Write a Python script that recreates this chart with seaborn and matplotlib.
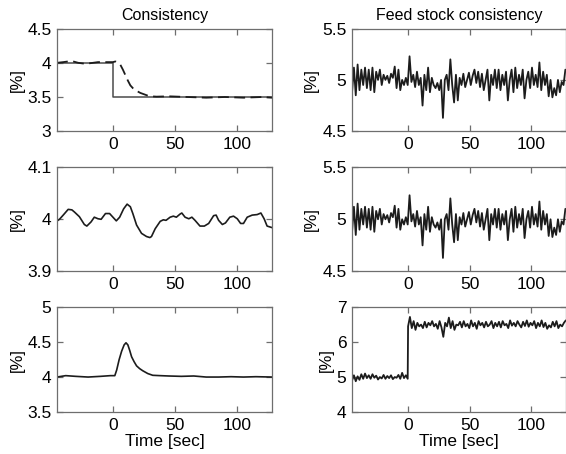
import numpy as np
import pandas as pd
import matplotlib
matplotlib.use("Agg")
import matplotlib.pyplot as plt
import seaborn as sns

# Data
# top left: consistency step response
sp_t = [-45, 0, 0, 128]
sp_v = [4.0, 4.0, 3.5, 3.5]
cons1_t = [-45, -40, -36, -32, -28, -24, -20, -16, -12, -8, -4, 0, 2, 4, 6, 8, 10, 12,
           14, 16, 18, 20, 22, 25, 28, 31, 35, 45, 60, 75, 90, 105, 120, 128]
cons1_v = [4.0, 4.01, 4.02, 4.02, 4.0, 3.99, 3.99, 4.0, 4.01, 4.01, 4.01, 4.01, 4.02, 4.0,
           3.97, 3.9, 3.82, 3.74, 3.67, 3.63, 3.6, 3.58, 3.56, 3.54, 3.52, 3.51, 3.505, 3.51,
           3.5, 3.49, 3.5, 3.49, 3.5, 3.49]

# middle left: consistency under disturbance
cons2_t = [-46, -43, -40, -36, -33, -31, -27, -23, -21, -17.6, -15, -12, -9.5, -6, -2.7, 0,
           2.7, 5.4, 8.6, 11.4, 14, 16, 19, 23, 27, 29.7, 31, 34, 38, 40.5, 42.7, 46, 48.6,
           51, 54, 55.4, 58, 61, 63.5, 66, 70, 73.5, 77, 81, 83, 85, 88, 90.5, 94, 97, 100,
           102.7, 105, 108, 112, 116, 119, 121.6, 124, 128]
cons2_v = [3.995, 4.0, 4.008, 4.019, 4.018, 4.014, 4.005, 3.99, 3.987, 3.995, 4.004, 4.001,
           4.0, 4.011, 4.011, 4.004, 3.997, 4.004, 4.02, 4.029, 4.024, 4.011, 3.989, 3.973,
           3.967, 3.965, 3.967, 3.982, 3.996, 3.999, 3.998, 4.004, 4.006, 4.004, 4.01, 4.012,
           4.004, 4.001, 4.004, 3.998, 3.987, 3.987, 3.992, 4.007, 4.008, 3.998, 3.99, 3.993,
           4.004, 4.006, 4.001, 3.992, 3.992, 4.004, 4.008, 4.009, 4.012, 4.001, 3.987, 3.984]

# bottom left: consistency after feed stock step
cons3_t = [-45, -38, -30, -20, -10, -2, 1.5, 3, 5, 7, 9, 10.5, 12, 13.5, 15, 17, 19, 21.5,
           24, 28, 32, 38, 45, 55, 65, 75, 85, 95, 105, 115, 128]
cons3_v = [4.0, 4.02, 4.01, 4.0, 4.01, 4.02, 4.02, 4.1, 4.25, 4.37, 4.46, 4.49, 4.46, 4.38,
           4.29, 4.22, 4.16, 4.12, 4.09, 4.05, 4.025, 4.02, 4.015, 4.01, 4.015, 4.0, 4.0,
           4.005, 4.0, 4.005, 4.0]

# right: feed stock consistency (same trace in the upper two panels)
feed_t = np.arange(-45, 129, 1.5)
feed_v = [4.88, 5.12, 4.85, 5.15, 4.9, 5.1, 4.95, 5.12, 4.92, 5.1,
          4.9, 5.12, 4.88, 5.08, 5.0, 5.1, 4.95, 5.05, 5.0, 5.04,
          4.97, 5.06, 5.02, 5.13, 4.92, 5.1, 4.9, 5.0, 4.95, 5.02,
          4.95, 5.23, 4.98, 5.05, 4.93, 5.08, 4.95, 5.02, 4.75, 5.05,
          4.9, 5.12, 4.88, 5.02, 4.95, 4.92, 4.97, 4.9, 5.0, 4.63,
          5.0, 5.05, 4.9, 5.2, 4.95, 4.78, 5.05, 4.8, 5.02, 4.95,
          5.06, 4.93, 5.0, 5.07, 4.95, 5.04, 5.1, 4.97, 5.08, 4.93,
          5.06, 4.9, 5.0, 5.1, 4.8, 5.05, 4.95, 5.1, 4.92, 5.1,
          4.9, 5.05, 4.95, 5.08, 4.8, 5.0, 5.1, 4.88, 5.12, 4.92,
          5.05, 4.95, 5.1, 4.82, 5.0, 5.08, 4.92, 5.12, 4.95, 5.05,
          4.93, 5.17, 4.9, 5.08, 4.95, 5.05, 4.84, 5.0, 4.83, 4.92,
          4.85, 5.0, 4.88, 4.98, 4.95, 5.1]

step_t = np.concatenate([np.arange(-45, 1, 1.5), np.arange(0.3, 129, 1.5)])
step_v = [4.9, 5.05, 4.88, 5.02, 4.92, 5.08, 4.95, 5.1, 4.97, 5.05,
          4.95, 5.08, 4.98, 5.04, 4.93, 5.0, 4.96, 5.06, 4.95, 5.03,
          4.97, 5.05, 4.94, 5.0, 4.98, 5.06, 4.95, 5.12, 4.97, 5.05, 4.95,
          6.45, 6.72, 6.4, 6.6, 6.35, 6.55, 6.45, 6.5, 6.4, 6.58,
          6.42, 6.55, 6.48, 6.6, 6.45, 6.52, 6.38, 6.6, 6.42, 6.15,
          6.55, 6.45, 6.7, 6.4, 6.6, 6.35, 6.5, 6.48, 6.58, 6.42,
          6.6, 6.45, 6.52, 6.4, 6.62, 6.45, 6.55, 6.38, 6.6, 6.48,
          6.55, 6.42, 6.58, 6.45, 6.5, 6.6, 6.4, 6.55, 6.45, 6.58,
          6.42, 6.6, 6.48, 6.52, 6.4, 6.62, 6.47, 6.55, 6.45, 6.6,
          6.5, 6.42, 6.58, 6.46, 6.62, 6.44, 6.55, 6.48, 6.6, 6.4,
          6.55, 6.45, 6.62, 6.43, 6.55, 6.38, 6.48, 6.42, 6.58, 6.45,
          6.6, 6.4, 6.5, 6.45, 6.55, 6.62]

yticks_left = [[3, 3.5, 4, 4.5], [3.9, 4, 4.1], [3.5, 4, 4.5, 5]]
ylabels_left = [["3", "3.5", "4", "4.5"], ["3.9", "4", "4.1"], ["3.5", "4", "4.5", "5"]]
yticks_right = [[4.5, 5, 5.5], [4.5, 5, 5.5], [4, 5, 6, 7]]
ylabels_right = [["4.5", "5", "5.5"], ["4.5", "5", "5.5"], ["4", "5", "6", "7"]]
xticks = [0, 50, 100]

LINE = '#1c1c1c'
FRAME = '#6e6e6e'

# Style: MATLAB-like boxed axes with inward ticks
sns.set_style("ticks", {
    'xtick.direction': 'in', 'ytick.direction': 'in',
    'xtick.top': True, 'ytick.right': True,
    'xtick.bottom': True, 'ytick.left': True,
    'axes.edgecolor': FRAME, 'xtick.color': FRAME, 'ytick.color': FRAME,
    'text.color': 'black', 'axes.labelcolor': 'black',
})
plt.rcParams['font.family'] = ['Liberation Sans', 'DejaVu Sans']
plt.rcParams['xtick.major.size'] = 4
plt.rcParams['ytick.major.size'] = 4
plt.rcParams['xtick.major.width'] = 0.9
plt.rcParams['ytick.major.width'] = 0.9
plt.rcParams['xtick.labelcolor'] = 'black'
plt.rcParams['ytick.labelcolor'] = 'black'

fig = plt.figure(figsize=(5.66, 4.54), dpi=100)
rows = [(0.711, 0.226), (0.402, 0.230), (0.0925, 0.231)]
axes = []
for bottom, height in rows:
    axl = fig.add_axes([0.1007, bottom, 0.380, height])
    axr = fig.add_axes([0.622, bottom, 0.378, height])
    axes.append((axl, axr))

# Left column
ax = axes[0][0]
sns.lineplot(x=sp_t, y=sp_v, ax=ax, color='#4a4a4a', linewidth=1.1,
             estimator=None, sort=False)
sns.lineplot(x=cons1_t, y=cons1_v, ax=ax, color=LINE, linewidth=1.3,
             estimator=None, sort=False, dashes=False, linestyle=(0, (6, 3)))
ax.set_title('Consistency', fontsize=11.5, pad=6)

sns.lineplot(x=cons2_t, y=cons2_v, ax=axes[1][0], color=LINE, linewidth=1.2,
             estimator=None, sort=False)
sns.lineplot(x=cons3_t, y=cons3_v, ax=axes[2][0], color=LINE, linewidth=1.2,
             estimator=None, sort=False)

# Right column
sns.lineplot(x=feed_t, y=feed_v, ax=axes[0][1], color=LINE, linewidth=1.3,
             estimator=None, sort=False)
axes[0][1].set_title('Feed stock consistency', fontsize=11.5, pad=6)
sns.lineplot(x=feed_t, y=feed_v, ax=axes[1][1], color=LINE, linewidth=1.3,
             estimator=None, sort=False)
sns.lineplot(x=step_t, y=step_v, ax=axes[2][1], color=LINE, linewidth=1.3,
             estimator=None, sort=False)

for i, (axl, axr) in enumerate(axes):
    for ax, yt, yl in [(axl, yticks_left[i], ylabels_left[i]),
                       (axr, yticks_right[i], ylabels_right[i])]:
        ax.set_xlim(-45, 128)
        ax.set_ylim(yt[0], yt[-1])
        ax.set_yticks(yt)
        ax.set_yticklabels(yl)
        ax.set_xticks(xticks)
        ax.set_xticklabels([str(x) for x in xticks])
        ax.tick_params(labelsize=12.5, pad=4)
        for s in ax.spines.values():
            s.set_visible(True)
            s.set_color(FRAME)
            s.set_linewidth(0.9)
        ax.set_ylabel('[%]', fontsize=12, labelpad=2)
        if i == 2:
            ax.set_xlabel('Time [sec]', fontsize=12.5, labelpad=1)
        else:
            ax.set_xlabel('')

fig.savefig('out.png', dpi=100)
